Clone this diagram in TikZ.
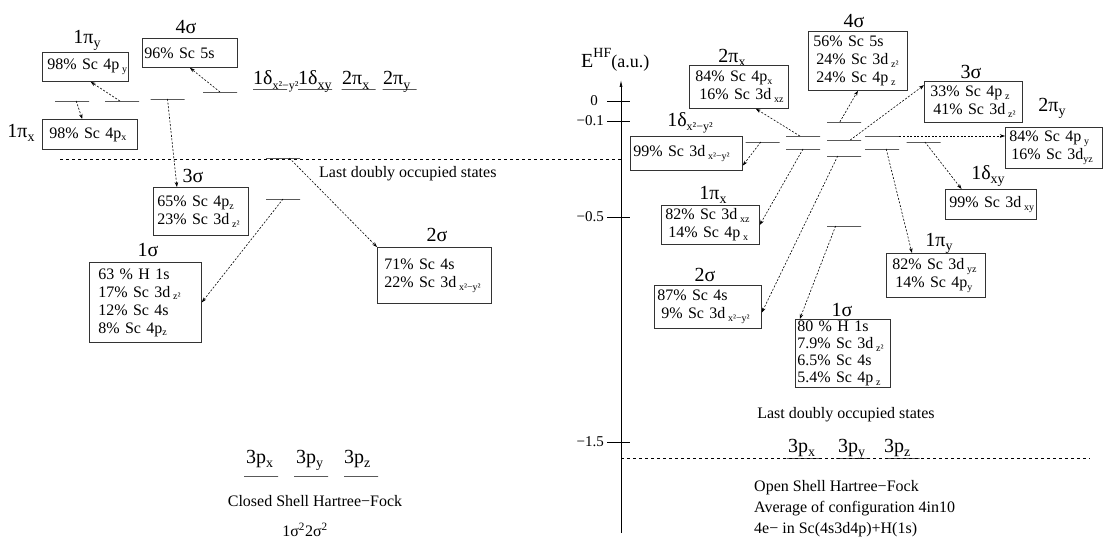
\documentclass[tikz,border=0pt]{standalone}
\usepackage{fontspec}
\setmainfont{Liberation Serif}
\usepackage{tikz}
\usetikzlibrary{arrows.meta,positioning,calc}
\newcommand{\bsub}[1]{\raisebox{-0.4ex}{\fontsize{10}{10}\selectfont #1}}
\newcommand{\tsub}[1]{\raisebox{-0.45ex}{\fontsize{14}{14}\selectfont #1}}
\newcommand{\dsub}[1]{\raisebox{-0.45ex}{\fontsize{12}{12}\selectfont #1}}

\begin{document}
\begin{tikzpicture}[
 x=1pt,y=-1pt,
 box/.style={draw=black!80,line width=0.8pt,fill=white,align=left,anchor=north west,
             inner xsep=3pt,inner ysep=0pt,font=\fontsize{16}{18}\selectfont},
 lab/.style={inner sep=0pt,font=\fontsize{20}{22}\selectfont},
 level/.style={draw,line width=0.9pt,minimum width=34pt,minimum height=0pt,inner sep=0pt},
 link/.style={-{Stealth[length=5pt,width=3.5pt]},dash pattern=on 2pt off 1.6pt,line width=0.6pt},
 ref/.style={dash pattern=on 3pt off 3pt,line width=0.6pt},
 note/.style={inner sep=0pt,font=\fontsize{16}{20}\selectfont},
 tick/.style={inner sep=0pt,font=\fontsize{15}{15}\selectfont}]
\useasboundingbox (0,0) rectangle (1105,540);

% reference lines
\draw[ref] (60,159) -- (621,159);
\draw[ref] (621,458) -- (1090,458);

% energy axis
\coordinate (axbot) at (621,533);
\coordinate (axtop) at (621,80);
\draw[line width=0.7pt,-{Latex[length=7pt,width=3pt]}] (axbot) -- (axtop);
\foreach \v/\lx/\ly in {0/598/101,−0.1/604/121,−0.5/604/217,−1.5/604/442}
 {\draw[line width=0.7pt] (607,\ly) -- (630,\ly);
  \node[tick,anchor=east] at (\lx,\ly) {\v};}
\node[lab,anchor=base west] (eaxis) at (581,68)
 {E\raisebox{1.1ex}{\fontsize{14}{14}\selectfont HF}\fontsize{18}{18}\selectfont(a.u.)};

% CLOSED SHELL: levels
\node[level] (c1px) at (72,101) {};
\node[level] (c1py) at (122,101) {};
\node[level] (c3s) at (167.5,99) {};
\node[level] (c4s) at (220,92) {};
\node[level] (c1dx) at (270,89) {};
\node[level] (c1dxy) at (315,89) {};
\node[level] (c2px) at (358.5,89) {};
\node[level] (c2py) at (399.5,89) {};
\node[level] (c2s) at (283,158) {};
\node[level] (c1s) at (283,199) {};
\node[level] (c3px) at (261,476) {};
\node[level] (c3py) at (311,476) {};
\node[level] (c3pz) at (361,476) {};

% CLOSED SHELL: labels
\node[lab] at (87,40) {1π\tsub{y}};
\node[lab] at (186,27) {4σ};
\node[lab] at (21,133) {1π\tsub{x}};
\node[lab,anchor=base west] at (253,85) {1δ\dsub{x²−y²}};
\node[lab,anchor=base west] at (298,85) {1δ\tsub{xy}};
\node[lab,anchor=base west] at (342,85) {2π\tsub{x}};
\node[lab,anchor=base west] at (383,85) {2π\tsub{y}};
\node[lab] at (193,176) {3σ};
\node[lab] at (148,250) {1σ};
\node[lab] at (437,235) {2σ};
\node[lab,anchor=base west] at (246,463) {3p\tsub{x}};
\node[lab,anchor=base west] at (296,463) {3p\tsub{y}};
\node[lab,anchor=base west] at (344,463) {3p\tsub{z}};

% CLOSED SHELL: boxes
\node[box,inner xsep=5pt,text width=76pt,minimum height=29pt] (c1pybox) at (42,52)
 {98\%~Sc~4p\,\bsub{y}};
\node[box,inner xsep=2pt,text width=91pt,minimum height=29pt] (c4sbox) at (142,38)
 {96\%~Sc~5s};
\node[box,inner xsep=7pt,text width=81pt,minimum height=30pt] (c1pxbox) at (42,119)
 {98\%~Sc~4p\bsub{x}};
\node[box,inner xsep=4pt,text width=87pt,minimum height=48pt] (c3sbox) at (153,187)
 {65\%~Sc~4p\bsub{z}\\23\%~Sc~3d\,\bsub{z²}};
\node[box,inner xsep=9pt,text width=94pt,minimum height=80pt] (c1sbox) at (89,262)
 {63~\%~H~1s\\17\%~Sc~3d\,\bsub{z²}\\12\%~Sc~4s\\8\%~Sc~4p\bsub{z}};
\node[box,inner xsep=7pt,text width=100pt,minimum height=56pt] (c2sbox) at (377,247)
 {71\%~Sc~4s\\22\%~Sc~3d\,\bsub{x²−y²}};

% CLOSED SHELL: links
\draw[link] ($(c1py.west)!0.44!(c1py.east)$) -- ($(c1pybox.south west)!0.56!(c1pybox.south east)$);
\draw[link] ($(c1px.west)!0.62!(c1px.east)$) -- ($(c1pxbox.north west)!0.42!(c1pxbox.north east)$);
\draw[link] (c4s.center) -- (c4sbox.south);
\draw[link] (c3s.center) -- ($(c3sbox.north west)!0.25!(c3sbox.north east)$);
\draw[link] ($(c2s.west)!0.68!(c2s.east)$) -- (c2sbox.north west);
\draw[link] (c1s.center) -- (c1sbox.east);

\node[note,anchor=west] (clast) at (319,174) {Last doubly occupied states};
\node[note] (cshf) at (315,501) {Closed Shell Hartree−Fock};
\node[note] (cconf) at (305,530) {1σ\textsuperscript{2}2σ\textsuperscript{2}};

% OPEN SHELL: levels
\node[level] (o4s) at (844,122) {};
\node[level] (o2px) at (803,136) {};
\node[level] (o3s) at (844,140) {};
\node[level] (o2py) at (882,136) {};
\node[level] (o1dx) at (762.5,142) {};
\node[level] (o1px) at (803,149) {};
\node[level] (o1py) at (882,149) {};
\node[level] (o2s) at (844,156) {};
\node[level] (o1dxy) at (923.5,142) {};
\node[level] (o1s) at (844,226) {};
\node[level] (o3px) at (803.5,458) {};
\node[level] (o3py) at (853,458) {};
\node[level] (o3pz) at (902.5,458) {};

% OPEN SHELL: labels
\node[lab] at (732,58) {2π\tsub{x}};
\node[lab] at (854,21) {4σ};
\node[lab] at (971,72) {3σ};
\node[lab] at (1052,108) {2π\tsub{y}};
\node[lab] at (690,123) {1δ\dsub{x²−y²}};
\node[lab] at (988,176) {1δ\tsub{xy}};
\node[lab] at (713,195) {1π\tsub{x}};
\node[lab] at (705,275) {2σ};
\node[lab] at (842,310) {1σ};
\node[lab] at (939,243) {1π\tsub{y}};
\node[lab,anchor=base west] at (788,452) {3p\tsub{x}};
\node[lab,anchor=base west] at (838,452) {3p\tsub{y}};
\node[lab,anchor=base west] at (884,452) {3p\tsub{z}};

% OPEN SHELL: boxes
\node[box,inner xsep=6pt,text width=87pt,minimum height=43pt] (o2pxbox) at (689,65)
 {84\%~Sc~4p\bsub{x}\\\hspace*{4pt}16\%~Sc~3d\,\bsub{xz}};
\node[box,inner xsep=5pt,text width=89pt,minimum height=59pt] (o4sbox) at (808,31)
 {56\%~Sc~5s\\\hspace*{3pt}24\%~Sc~3d\,\bsub{z²}\\\hspace*{3pt}24\%~Sc~4p\,\bsub{z}};
\node[box,inner xsep=6pt,text width=86pt,minimum height=41pt] (o3sbox) at (924,81)
 {33\%~Sc~4p\,\bsub{z}\\\hspace*{3pt}41\%~Sc~3d\,\bsub{z²}};
\node[box,inner xsep=4pt,text width=89pt,minimum height=41pt] (o2pybox) at (1005,127)
 {84\%~Sc~4p\,\bsub{y}\\\hspace*{2pt}16\%~Sc~3d\bsub{yz}};
\node[box,inner xsep=3pt,text width=106pt,minimum height=34pt] (o1dxbox) at (630,136)
 {99\%~Sc~3d\,\bsub{x²−y²}};
\node[box,inner xsep=4pt,text width=83pt,minimum height=30pt] (o1dxybox) at (945,189)
 {99\%~Sc~3d\,\bsub{xy}};
\node[box,inner xsep=4pt,text width=90pt,minimum height=39pt] (o1pxbox) at (661,205)
 {82\%~Sc~3d\,\bsub{xz}\\\hspace*{3pt}14\%~Sc~4p\,\bsub{x}};
\node[box,inner xsep=3pt,text width=101pt,minimum height=43pt] (o2sbox) at (654,285)
 {87\%~Sc~4s\\\hspace*{4pt}9\%~Sc~3d\,\bsub{x²−y²}};
\node[box,inner xsep=2pt,text width=91pt,minimum height=68pt,
      font=\fontsize{16}{17}\selectfont] (o1sbox) at (795,319)
 {80~\%~H~1s\\7.9\%~Sc~3d\,\bsub{z²}\\6.5\%~Sc~4s\\5.4\%~Sc~4p\,\bsub{z}};
\node[box,inner xsep=6pt,text width=87pt,minimum height=44pt] (o1pybox) at (886,253)
 {82\%~Sc~3d\,\bsub{yz}\\\hspace*{3pt}14\%~Sc~4p\bsub{y}};

% OPEN SHELL: links
\draw[link] ($(o2px.west)!0.41!(o2px.east)$) -- ($(o2pxbox.south west)!0.67!(o2pxbox.south east)$);
\draw[link] ($(o4s.west)!0.38!(o4s.east)$) -- (o4sbox.south);
\draw[link] ($(o3s.west)!0.68!(o3s.east)$) -- ($(o3sbox.north west)!0.1!(o3sbox.south west)$);
\draw[link] (o2py.east) -- (o2py.east -| o2pybox.west);
\draw[link] ($(o1dxy.west)!0.54!(o1dxy.east)$) -- ($(o1dxybox.north west)!0.18!(o1dxybox.north east)$);
\draw[link] ($(o1dx.west)!0.45!(o1dx.east)$) -- ($(o1dxbox.north east)!0.85!(o1dxbox.south east)$);
\draw[link] (o1px.center) -- (o1pxbox.east);
\draw[link] ($(o2s.west)!0.32!(o2s.east)$) -- ($(o2sbox.north east)!0.63!(o2sbox.south east)$);
\draw[link] ($(o1s.west)!0.26!(o1s.east)$) -- ($(o1sbox.north west)!0.05!(o1sbox.north east)$);
\draw[link] ($(o1py.west)!0.62!(o1py.east)$) -- ($(o1pybox.north west)!0.26!(o1pybox.north east)$);

\node[note] (olast) at (846,415) {Last doubly occupied states};
\node[note,anchor=north west,align=left,font=\fontsize{16}{21}\selectfont] (oshf) at (754,480)
 {Open Shell Hartree−Fock\\Average of configuration 4in10\\4e−~in~Sc(4s3d4p)+H(1s)};
\end{tikzpicture}
\end{document}
